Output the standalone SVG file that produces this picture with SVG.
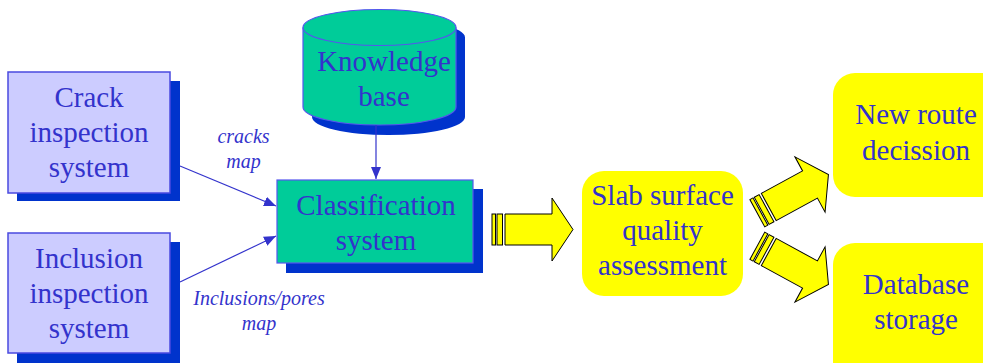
<svg xmlns="http://www.w3.org/2000/svg" width="983" height="363" viewBox="0 0 983 363">
  <style>
    text { font-family: 'Liberation Serif', Tinos, 'Times New Roman', serif; fill: #3333CC; text-anchor: middle; }
    .t29 { font-size: 29px; }
    .t20 { font-size: 20px; font-style: italic; }
    .shadow { fill: #0033CC; }
    .inspect { fill: #CCCCFF; stroke: #4A4AE0; stroke-width: 1.5; }
    .green { fill: #00CC99; stroke: #5555EE; stroke-width: 1.2; }
    .yellow { fill: #FFFF00; }
    .conn { stroke: #3333CC; stroke-width: 1.2; fill: none; }
    .blk { fill: #FFFF00; stroke: #000000; stroke-width: 1; }
  </style>
  <defs>
    <marker id="tri" viewBox="0 0 12 10" refX="12" refY="5" markerWidth="12" markerHeight="10" markerUnits="userSpaceOnUse" orient="auto">
      <path d="M0,0 L12,5 L0,10 Z" fill="#3333CC"/>
    </marker>
  </defs>

  <!-- Crack inspection system -->
  <g id="crack">
    <rect class="shadow" x="17" y="81" width="163" height="120"/>
    <rect class="inspect" x="8" y="72" width="162" height="121"/>
    <text class="t29" x="89" y="107">Crack</text>
    <text class="t29" x="89" y="142">inspection</text>
    <text class="t29" x="89" y="177">system</text>
  </g>

  <!-- Inclusion inspection system -->
  <g id="inclusion">
    <rect class="shadow" x="17" y="242" width="163" height="121"/>
    <rect class="inspect" x="8" y="233" width="162" height="120"/>
    <text class="t29" x="89" y="268">Inclusion</text>
    <text class="t29" x="89" y="303">inspection</text>
    <text class="t29" x="89" y="338">system</text>
  </g>

  <!-- Knowledge base -->
  <g id="knowledge">
    <path class="shadow" d="M312,37.5 L312,117 A76.5,18 0 0 0 465,117 L465,37.5 A76.5,18 0 0 0 312,37.5 Z"/>
    <path class="green" d="M303,27.5 L303,107 A76.5,18 0 0 0 456,107 L456,27.5"/>
    <ellipse class="green" cx="379.5" cy="27.5" rx="76.5" ry="18"/>
    <text class="t29" x="384" y="71">Knowledge</text>
    <text class="t29" x="384" y="106">base</text>
  </g>

  <!-- Classification system -->
  <g id="classification">
    <rect class="shadow" x="286" y="189" width="197" height="84"/>
    <rect class="green" x="277" y="180" width="196" height="83"/>
    <text class="t29" x="376" y="215">Classification</text>
    <text class="t29" x="376" y="250">system</text>
  </g>

  <!-- Slab surface quality assessment -->
  <g id="slab">
    <rect class="yellow" x="582" y="171" width="161" height="125" rx="22"/>
    <text class="t29" x="662.5" y="205">Slab surface</text>
    <text class="t29" x="662.5" y="240">quality</text>
    <text class="t29" x="662.5" y="275">assessment</text>
  </g>

  <!-- New route decission -->
  <g id="newroute">
    <rect class="yellow" x="833" y="73" width="170" height="124" rx="22"/>
    <text class="t29" x="916" y="124">New route</text>
    <text class="t29" x="916" y="160">decission</text>
  </g>

  <!-- Database storage -->
  <g id="database">
    <rect class="yellow" x="833" y="243" width="170" height="140" rx="22"/>
    <text class="t29" x="916" y="294">Database</text>
    <text class="t29" x="916" y="329">storage</text>
  </g>

  <!-- Connectors: thin arrows with labels, then striped block arrows -->
  <g id="connectors">
    <line class="conn" x1="376" y1="125" x2="376" y2="179" marker-end="url(#tri)"/>
    <line class="conn" x1="180" y1="166" x2="276" y2="206" marker-end="url(#tri)"/>
    <line class="conn" x1="180" y1="282" x2="276" y2="236" marker-end="url(#tri)"/>
    <text class="t20" x="243.5" y="143">cracks</text>
    <text class="t20" x="243.5" y="168">map</text>
    <text class="t20" x="259" y="305">Inclusions/pores</text>
    <text class="t20" x="259" y="330">map</text>
    <g transform="translate(552,229.5)">
      <rect class="blk" x="-60" y="-15.5" width="3.5" height="31"/>
      <rect class="blk" x="-55" y="-15.5" width="5.5" height="31"/>
      <path class="blk" d="M-47,-15.5 L0,-15.5 L0,-31.5 L21,0 L0,31.5 L0,15.5 L-47,15.5 Z"/>
    </g>
    <g transform="translate(810,184.5) rotate(-28.6)">
      <rect class="blk" x="-60" y="-15.5" width="3.5" height="31"/>
      <rect class="blk" x="-55" y="-15.5" width="5.5" height="31"/>
      <path class="blk" d="M-47,-15.5 L0,-15.5 L0,-31.5 L21,0 L0,31.5 L0,15.5 L-47,15.5 Z"/>
    </g>
    <g transform="translate(810,274.5) rotate(28.6)">
      <rect class="blk" x="-60" y="-15.5" width="3.5" height="31"/>
      <rect class="blk" x="-55" y="-15.5" width="5.5" height="31"/>
      <path class="blk" d="M-47,-15.5 L0,-15.5 L0,-31.5 L21,0 L0,31.5 L0,15.5 L-47,15.5 Z"/>
    </g>
  </g>
</svg>
